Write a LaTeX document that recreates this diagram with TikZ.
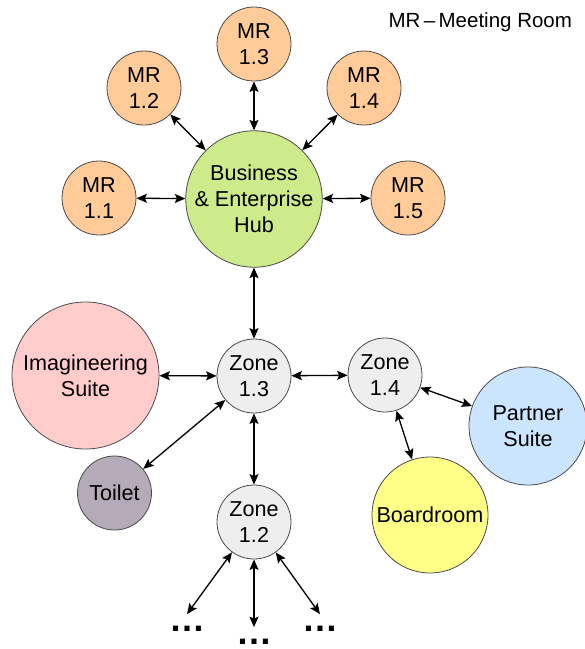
\documentclass[tikz,border=0pt]{standalone}
\usepackage{fontspec}
\setmainfont{Liberation Sans}
\usetikzlibrary{arrows.meta,positioning}
\definecolor{mrorange}{HTML}{FFCC99}
\definecolor{hubgreen}{HTML}{CDEB8B}
\definecolor{suitepink}{HTML}{FFCCCC}
\definecolor{zonegray}{HTML}{EEEEEE}
\definecolor{wcpurple}{HTML}{B4AAB8}
\definecolor{partnerblue}{HTML}{CCE5FF}
\definecolor{boardyellow}{HTML}{FFFF88}
\definecolor{edgegray}{HTML}{4A4A4A}
\tikzset{
  room/.style ={circle,draw=edgegray,line width=0.8pt,align=center,inner sep=0pt,
                font=\fontsize{21.6}{26}\selectfont},
  mr/.style   ={room,fill=mrorange,minimum size=74pt},
  zone/.style ={room,fill=zonegray,minimum size=74pt},
  link/.style ={{Stealth[length=10.5pt,width=9pt,inset=2pt]}-{Stealth[length=10.5pt,width=9pt,inset=2pt]},
                line width=1.3pt},
  more/.style ={font=\bfseries\fontsize{36}{36}\selectfont,inner xsep=0pt,inner ysep=12pt},
}

\begin{document}
\begin{tikzpicture}[x=1pt,y=-1pt]
  \useasboundingbox (0,0) rectangle (585,649);

  % hub and meeting rooms
  \node[room,fill=hubgreen,minimum size=132pt] (hub) at (254,199)
    {Business\\\& Enterprise\\Hub};
  \node[mr] (mr11) at (99,198)  {MR\\1.1};
  \node[mr] (mr12) at (144,88)  {MR\\1.2};
  \node[mr] (mr13) at (254,44)  {MR\\1.3};
  \node[mr] (mr14) at (364,88)  {MR\\1.4};
  \node[mr] (mr15) at (408,198) {MR\\1.5};

  % zones
  \node[zone] (z13) at (254,376) {Zone\\1.3};
  \node[zone] (z14) at (385,375) {Zone\\1.4};
  \node[zone] (z12) at (254,522) {Zone\\1.2};

  % suites
  \node[room,fill=suitepink,minimum size=147pt]   (img)     at (85.5,375.5) {Imagineering\\Suite};
  \node[room,fill=wcpurple,minimum size=74pt]     (wc)      at (114.5,493)  {Toilet};
  \node[room,fill=partnerblue,minimum size=118pt] (partner) at (528,426)    {Partner\\Suite};
  \node[room,fill=boardyellow,minimum size=116pt] (board)   at (430,515)    {Boardroom};

  \node[more] (dl) at (187,629) {…};
  \node[more] (dm) at (254,642) {…};
  \node[more] (dr) at (320,629) {…};

  \node[anchor=west,font=\fontsize{20.5}{24}\selectfont] (key) at (385,22)
    {MR\,–\,Meeting Room};

  % links
  \draw[link] (hub) -- (mr11);
  \draw[link] (hub) -- (mr12);
  \draw[link] (hub) -- (mr13);
  \draw[link] (hub) -- (mr14);
  \draw[link] (hub) -- (mr15);
  \draw[link] (hub) -- (z13);
  \draw[link] (img) -- (z13);
  \draw[link] (z13) -- (z14);
  \draw[link] (z13) -- (wc);
  \draw[link] (z13) -- (z12);
  \draw[link] (z14) -- (partner);
  \draw[link] (z14) -- (board);
  \draw[link] (z12) -- (dl.north);
  \draw[link] (z12) -- (dm.north);
  \draw[link] (z12) -- (dr.north);
\end{tikzpicture}
\end{document}
